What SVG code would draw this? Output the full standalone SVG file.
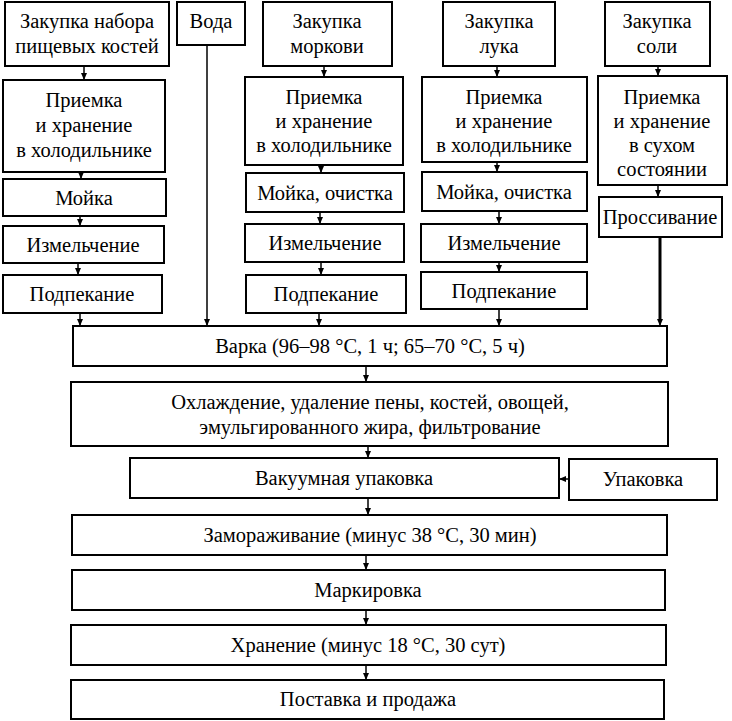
<svg xmlns="http://www.w3.org/2000/svg" width="732" height="721" viewBox="0 0 732 721" font-family="'Liberation Serif', 'DejaVu Serif', serif">
<defs>
<marker id="ah" markerWidth="8" markerHeight="8" refX="7" refY="4" orient="auto" markerUnits="userSpaceOnUse">
<path d="M0,1 L7,4 L0,7 Z" fill="#000"/>
</marker>
<style>
rect{fill:#fff;stroke:#000;stroke-width:2}
text{font-family:'Liberation Serif','DejaVu Serif',serif;font-size:20.5px;fill:#000;text-anchor:middle}
.c line{stroke:#000;stroke-width:1.5;fill:none}
.c line.thick{stroke-width:3}
</style>
</defs>
<rect x="0" y="0" width="732" height="721" style="stroke:none"/>
<g class="c" id="connectors">
<line x1="84" y1="66" x2="84" y2="80" marker-end="url(#ah)"/>
<line x1="81" y1="172" x2="81" y2="179" marker-end="url(#ah)"/>
<line x1="80" y1="216" x2="80" y2="226" marker-end="url(#ah)"/>
<line x1="78" y1="263" x2="78" y2="275" marker-end="url(#ah)"/>
<line x1="80" y1="313" x2="80" y2="326" marker-end="url(#ah)"/>
<line x1="207" y1="45" x2="207" y2="326" marker-end="url(#ah)"/>
<line x1="324" y1="66" x2="324" y2="77" marker-end="url(#ah)"/>
<line x1="321" y1="165" x2="321" y2="173" marker-end="url(#ah)"/>
<line x1="320" y1="212" x2="320" y2="224" marker-end="url(#ah)"/>
<line x1="321" y1="262" x2="321" y2="275" marker-end="url(#ah)"/>
<line x1="319" y1="313" x2="319" y2="326" marker-end="url(#ah)"/>
<line x1="497" y1="66" x2="497" y2="77" marker-end="url(#ah)"/>
<line x1="497" y1="162" x2="497" y2="172" marker-end="url(#ah)"/>
<line x1="499" y1="211" x2="499" y2="224" marker-end="url(#ah)"/>
<line x1="499" y1="262" x2="499" y2="272" marker-end="url(#ah)"/>
<line x1="499" y1="309" x2="499" y2="326" marker-end="url(#ah)"/>
<line x1="658" y1="66" x2="658" y2="76" marker-end="url(#ah)"/>
<line x1="658" y1="185" x2="658" y2="197" marker-end="url(#ah)"/>
<line class="thick" x1="660" y1="237" x2="660" y2="320"/>
<line x1="660" y1="318" x2="660" y2="326" marker-end="url(#ah)"/>
<line x1="366" y1="366" x2="366" y2="382" marker-end="url(#ah)"/>
<line x1="368" y1="446" x2="368" y2="458" marker-end="url(#ah)"/>
<line x1="368" y1="498" x2="368" y2="515" marker-end="url(#ah)"/>
<line x1="569" y1="479" x2="559" y2="479" marker-end="url(#ah)"/>
<line x1="366" y1="555" x2="366" y2="570" marker-end="url(#ah)"/>
<line x1="366" y1="610" x2="366" y2="625" marker-end="url(#ah)"/>
<line x1="366" y1="665" x2="366" y2="680" marker-end="url(#ah)"/>
</g>
<g id="n_kosti"><rect x="5" y="2" width="164" height="64"/><text x="87" y="28">Закупка набора</text><text x="87" y="53">пищевых костей</text></g>
<g id="n_voda"><rect x="177" y="2" width="68" height="43"/><text x="211" y="28">Вода</text></g>
<g id="n_morkov"><rect x="263" y="2" width="129" height="64"/><text x="327" y="28">Закупка</text><text x="327" y="53">моркови</text></g>
<g id="n_luk"><rect x="443" y="2" width="112" height="64"/><text x="499" y="28">Закупка</text><text x="499" y="53">лука</text></g>
<g id="n_sol"><rect x="605" y="2" width="105" height="64"/><text x="657" y="28">Закупка</text><text x="657" y="53">соли</text></g>
<g id="n_pr1"><rect x="3" y="80" width="162" height="92"/><text x="84" y="107">Приемка</text><text x="84" y="132">и хранение</text><text x="84" y="157">в холодильнике</text></g>
<g id="n_mo1"><rect x="3" y="179" width="163" height="37"/><text x="84" y="205">Мойка</text></g>
<g id="n_iz1"><rect x="3" y="226" width="161" height="37"/><text x="83" y="252">Измельчение</text></g>
<g id="n_po1"><rect x="3" y="275" width="159" height="38"/><text x="82" y="301">Подпекание</text></g>
<g id="n_pr2"><rect x="245" y="77" width="158" height="88"/><text x="324" y="104">Приемка</text><text x="324" y="128">и хранение</text><text x="324" y="152">в холодильнике</text></g>
<g id="n_mo2"><rect x="246" y="173" width="158" height="39"/><text x="325" y="200">Мойка, очистка</text></g>
<g id="n_iz2"><rect x="245" y="224" width="159" height="38"/><text x="325" y="250">Измельчение</text></g>
<g id="n_po2"><rect x="246" y="275" width="160" height="38"/><text x="326" y="301">Подпекание</text></g>
<g id="n_pr3"><rect x="422" y="77" width="165" height="85"/><text x="504" y="104">Приемка</text><text x="504" y="128">и хранение</text><text x="504" y="152">в холодильнике</text></g>
<g id="n_mo3"><rect x="422" y="172" width="165" height="39"/><text x="504" y="199">Мойка, очистка</text></g>
<g id="n_iz3"><rect x="421" y="224" width="166" height="38"/><text x="504" y="250">Измельчение</text></g>
<g id="n_po3"><rect x="421" y="272" width="166" height="37"/><text x="504" y="298">Подпекание</text></g>
<g id="n_pr4"><rect x="598" y="76" width="129" height="109"/><text x="662" y="104">Приемка</text><text x="662" y="128">и хранение</text><text x="662" y="152">в сухом</text><text x="662" y="176">состоянии</text></g>
<g id="n_pross"><rect x="599" y="197" width="123" height="40"/><text x="660" y="224">Проссивание</text></g>
<g id="n_varka"><rect x="73" y="326" width="594" height="40"/><text x="370" y="353">Варка (96–98 °С, 1 ч; 65–70 °С, 5 ч)</text></g>
<g id="n_ohl"><rect x="71" y="382" width="597" height="64"/><text x="370" y="409">Охлаждение, удаление пены, костей, овощей,</text><text x="370" y="434">эмульгированного жира, фильтрование</text></g>
<g id="n_vak"><rect x="130" y="458" width="429" height="40"/><text x="344" y="485">Вакуумная упаковка</text></g>
<g id="n_upak"><rect x="569" y="459" width="148" height="41"/><text x="643" y="486">Упаковка</text></g>
<g id="n_zam"><rect x="72" y="515" width="595" height="40"/><text x="370" y="542">Замораживание (минус 38 °С, 30 мин)</text></g>
<g id="n_mark"><rect x="72" y="570" width="593" height="40"/><text x="368" y="597">Маркировка</text></g>
<g id="n_hran"><rect x="71" y="625" width="595" height="40"/><text x="368" y="652">Хранение (минус 18 °С, 30 сут)</text></g>
<g id="n_post"><rect x="71" y="680" width="593" height="39"/><text x="368" y="706">Поставка и продажа</text></g>
</svg>
